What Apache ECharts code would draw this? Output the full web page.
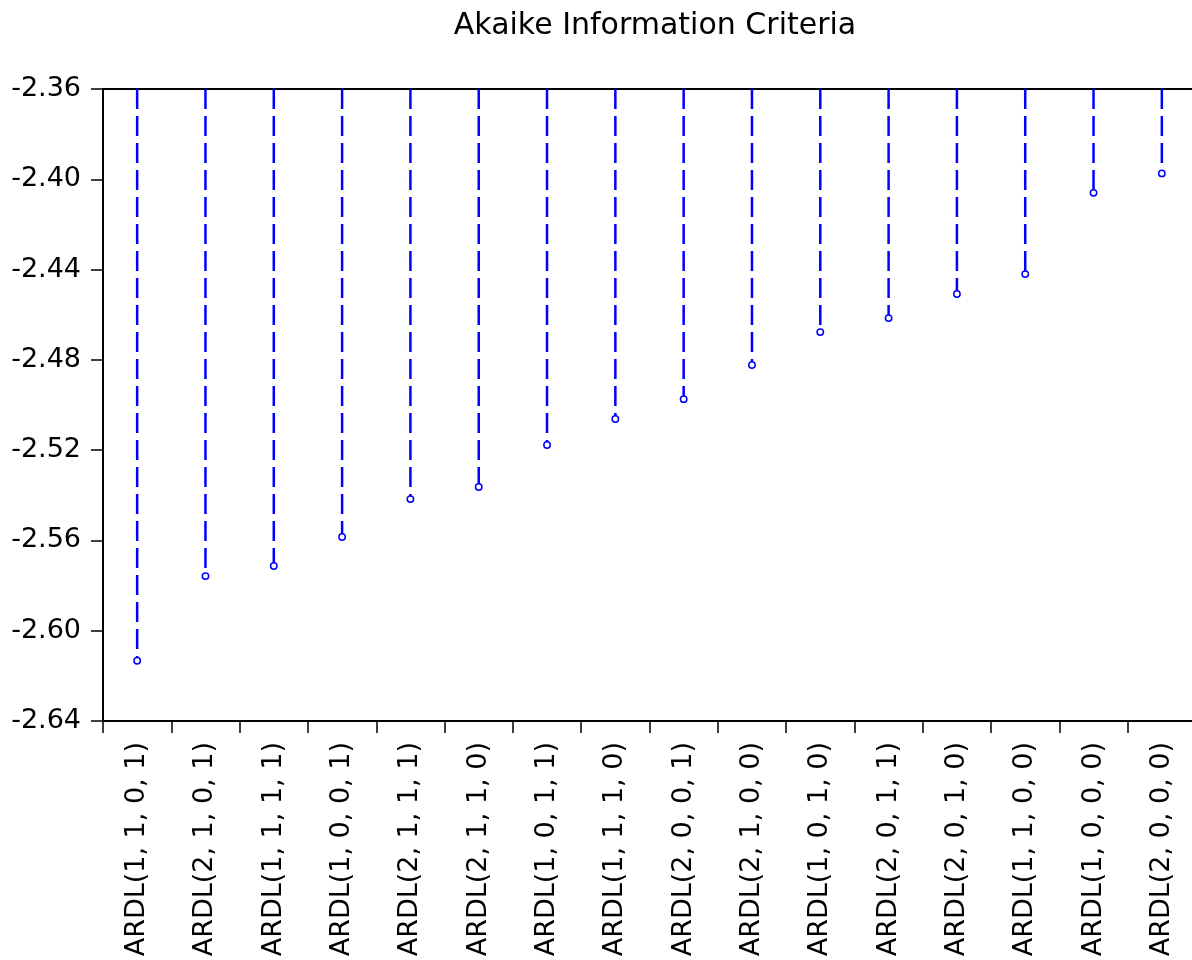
<!DOCTYPE html>
<html>
<head>
<meta charset="utf-8">
<title>Akaike Information Criteria</title>
<script src="https://cdn.jsdelivr.net/npm/echarts@6/dist/echarts.min.js"></script>
<style>
  html, body { margin: 0; padding: 0; background: #fff; overflow: hidden; }
  #chart { width: 1200px; height: 960px; }
</style>
</head>
<body>
<div id="chart"></div>
<script>
// Model specifications, ordered from lowest to highest criterion value
const models = [
  'ARDL(1, 1, 0, 1)', 'ARDL(2, 1, 0, 1)', 'ARDL(1, 1, 1, 1)', 'ARDL(1, 0, 0, 1)',
  'ARDL(2, 1, 1, 1)', 'ARDL(2, 1, 1, 0)', 'ARDL(1, 0, 1, 1)', 'ARDL(1, 1, 1, 0)',
  'ARDL(2, 0, 0, 1)', 'ARDL(2, 1, 0, 0)', 'ARDL(1, 0, 1, 0)', 'ARDL(2, 0, 1, 1)',
  'ARDL(2, 0, 1, 0)', 'ARDL(1, 1, 0, 0)', 'ARDL(1, 0, 0, 0)', 'ARDL(2, 0, 0, 0)'
];

// Akaike information criterion for each model
const aicValues = [
  -2.6133, -2.5758, -2.5713, -2.5585,
  -2.5417, -2.5363, -2.5177, -2.5062,
  -2.4974, -2.4823, -2.4677, -2.4615,
  -2.4508, -2.4420, -2.4060, -2.3974
];

// Value axis range and tick step
const yMin = -2.64;
const yMax = -2.36;
const yStep = 0.04;

const FONT = 'DejaVu Sans';

const chart = echarts.init(document.getElementById('chart'), null, { renderer: 'canvas' });

chart.setOption({
  backgroundColor: '#ffffff',
  animation: false,
  title: {
    text: 'Akaike Information Criteria',
    left: 650,
    top: 6,
    textAlign: 'center',
    textStyle: { fontFamily: FONT, fontSize: 30, fontWeight: 'normal', color: '#000' }
  },
  grid: {
    left: 103,
    top: 89,
    right: 4,
    bottom: 239,
    show: false
  },
  xAxis: [
    {
      type: 'category',
      data: models,
      boundaryGap: true,
      axisLine: { show: true, lineStyle: { color: '#000', width: 2 } },
      axisTick: { show: true, inside: false, length: 12, alignWithLabel: false, lineStyle: { color: '#000', width: 1.5 } },
      axisLabel: {
        rotate: 90,
        margin: 21,
        interval: 0,
        fontFamily: FONT,
        fontSize: 27,
        color: '#000'
      },
      splitLine: { show: false }
    },
    {
      // frame line along the top of the plot
      type: 'category',
      data: models,
      position: 'top',
      axisLine: { show: true, lineStyle: { color: '#000', width: 2 } },
      axisTick: { show: false },
      axisLabel: { show: false },
      splitLine: { show: false }
    }
  ],
  yAxis: {
    type: 'value',
    min: yMin,
    max: yMax,
    interval: yStep,
    axisLine: { show: true, onZero: false, lineStyle: { color: '#000', width: 2 } },
    axisTick: { show: true, inside: false, length: 12, lineStyle: { color: '#000', width: 1.5 } },
    axisLabel: {
      margin: 22,
      fontFamily: FONT,
      fontSize: 27,
      color: '#000',
      formatter: v => v.toFixed(2)
    },
    splitLine: { show: false }
  },
  series: [
    {
      // dashed drop lines hanging from the top of the plot to each value, ending in a hollow marker
      type: 'custom',
      xAxisIndex: 0,
      yAxisIndex: 0,
      data: aicValues.map((v, i) => [i, v]),
      renderItem: function (params, api) {
        const idx = api.value(0);
        const val = api.value(1);
        const top = api.coord([idx, yMax]);
        const pt = api.coord([idx, val]);
        return {
          type: 'group',
          children: [
            {
              type: 'line',
              shape: { x1: top[0], y1: top[1], x2: pt[0], y2: pt[1] - 3 },
              style: { stroke: '#0000ff', lineWidth: 2.5, lineDash: [20, 7] }
            },
            {
              type: 'circle',
              shape: { cx: pt[0], cy: pt[1], r: 3.2 },
              style: { fill: '#ffffff', stroke: '#0000ff', lineWidth: 1.5 }
            }
          ]
        };
      }
    }
  ]
});
</script>
</body>
</html>
